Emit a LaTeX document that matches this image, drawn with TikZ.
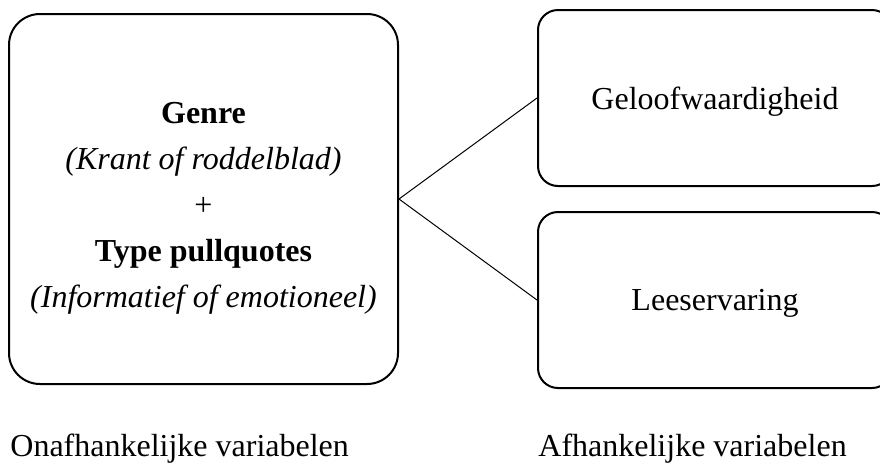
\documentclass[tikz,border=0pt]{standalone}
\usepackage{fontspec}
\setmainfont{Liberation Serif}
\usepackage{tikz}
\usetikzlibrary{positioning}

\begin{document}
\begin{tikzpicture}[x=0.5pt,y=-0.5pt,every node/.style={font=\fontsize{16}{23}\selectfont},
  bigbox/.style={draw,line width=1pt,rounded corners=15.5pt,minimum width=194.5pt,minimum height=185pt,inner sep=0pt},
  varbox/.style={draw,line width=1pt,rounded corners=10pt,minimum width=177pt,minimum height=88pt,inner sep=0pt,text depth=0pt},
  caption/.style={anchor=base west,inner sep=0pt}]
  \clip (0,0) rectangle (880,462);
  \useasboundingbox (0,0) rectangle (880,462);

  \node[bigbox] (onaf) at (203.5,199){};
  \node[align=center,inner sep=0pt] (onaftext) at (203.5,208)
    {\textbf{Genre}\\\textit{(Krant of roddelblad)}\\+\\\textbf{Type pullquotes}\\\textit{(Informatief of emotioneel)}};

  \node[varbox] (geloof) at (715,98){Geloofwaardigheid};
  \node[varbox] (lees) at (715,300){Leeservaring};

  \node[caption] (onaflabel) at (10,456){Onafhankelijke variabelen};
  \node[caption] (aflabel) at (538,456){Afhankelijke variabelen};

  \draw[line width=0.5pt](geloof.west)--(onaf.east)--(lees.west);
\end{tikzpicture}
\end{document}
